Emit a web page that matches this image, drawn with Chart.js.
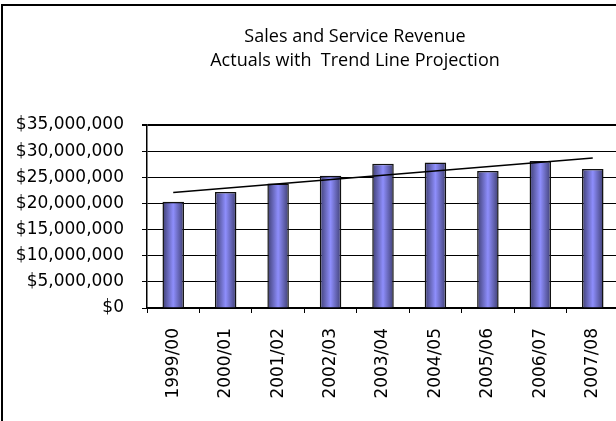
<!DOCTYPE html>
<html>
<head>
<meta charset="utf-8">
<script src="https://cdn.jsdelivr.net/npm/chart.js@4"></script>
<style>
  html, body { margin: 0; padding: 0; background: #fff; overflow: hidden; }
  #wrap { position: relative; width: 668px; height: 430px; }
</style>
</head>
<body>
<div id="wrap"><canvas id="revenue"></canvas></div>
<script>
// fiscal years on the x axis
const categories = ['1999/00', '2000/01', '2001/02', '2002/03', '2003/04', '2004/05', '2005/06', '2006/07', '2007/08'];
const revenue = [20300000, 22200000, 23800000, 25300000, 27600000, 27850000, 26200000, 28100000, 26600000];
// trend line end points (straight line, gaps spanned)
const trend = [22100000, null, null, null, null, null, null, null, 28700000];
const titleLines = ['Sales and Service Revenue', 'Actuals with  Trend Line Projection'];

const BAR_PCT = 0.41;

// frame round the chart (only top and left are in view) plus the two-line title,
// which in the original sits off-centre to the right
const framePlugin = {
  id: 'frame',
  afterDraw(chart) {
    const c = chart.ctx;
    c.save();
    c.strokeStyle = '#000';
    c.lineWidth = 2;
    c.beginPath();
    c.moveTo(2, chart.height + 5);
    c.lineTo(2, 5);
    c.lineTo(chart.width + 5, 5);
    c.stroke();

    c.fillStyle = '#000';
    c.font = '18px "Open Sans"';
    c.textAlign = 'center';
    c.textBaseline = 'alphabetic';
    c.fillText(titleLines[0], 355, 42);
    c.fillText(titleLines[1], 355, 66);
    c.restore();
  }
};

function barFill(ctx) {
  const chart = ctx.chart;
  const area = chart.chartArea;
  if (!area || ctx.type !== 'data') return '#6a6ab8';
  const xs = chart.scales.x;
  const x = xs.getPixelForValue(ctx.dataIndex);
  const w = (xs.width / categories.length) * BAR_PCT;
  const g = chart.ctx.createLinearGradient(x - w / 2, 0, x + w / 2, 0);
  g.addColorStop(0, '#3e3e72');
  g.addColorStop(0.5, '#8e8efc');
  g.addColorStop(1, '#3e3e72');
  return g;
}

new Chart(document.getElementById('revenue'), {
  type: 'bar',
  data: {
    labels: categories,
    datasets: [
      {
        type: 'line',
        label: 'Trend',
        data: trend,
        spanGaps: true,
        borderColor: '#000',
        borderWidth: 1.5,
        pointRadius: 0,
        fill: false,
        order: 0
      },
      {
        label: 'Revenue',
        data: revenue,
        backgroundColor: barFill,
        borderColor: '#111',
        borderWidth: 1.5,
        barPercentage: BAR_PCT,
        categoryPercentage: 1,
        order: 1
      }
    ]
  },
  options: {
    responsive: true,
    maintainAspectRatio: false,
    animation: false,
    layout: { padding: { left: 0, right: 49, top: 125, bottom: 0 } },
    plugins: {
      legend: { display: false },
      tooltip: { enabled: false },
      title: { display: false }
    },
    scales: {
      x: {
        grid: { drawOnChartArea: false, drawTicks: true, tickLength: 5, color: '#000', lineWidth: 1, offset: true },
        border: { color: '#000', width: 1.5 },
        ticks: {
          color: '#000',
          minRotation: 90,
          maxRotation: 90,
          padding: 15,
          font: { family: 'DejaVu Sans', size: 17 }
        },
        afterFit(scale) { scale.height = 122; }
      },
      y: {
        min: 0,
        max: 35000000,
        grid: {
          color: '#000',
          lineWidth: ctx => (ctx.tick && ctx.tick.value === 35000000 ? 2 : 1),
          tickLength: 5
        },
        border: { color: '#000', width: 1.5 },
        ticks: {
          stepSize: 5000000,
          color: '#000',
          padding: 18,
          font: { family: 'DejaVu Sans', size: 17 },
          callback: v => '$' + Number(v).toLocaleString('en-US')
        },
        afterFit(scale) { scale.width = 147; }
      }
    }
  },
  plugins: [framePlugin]
});
</script>
</body>
</html>
